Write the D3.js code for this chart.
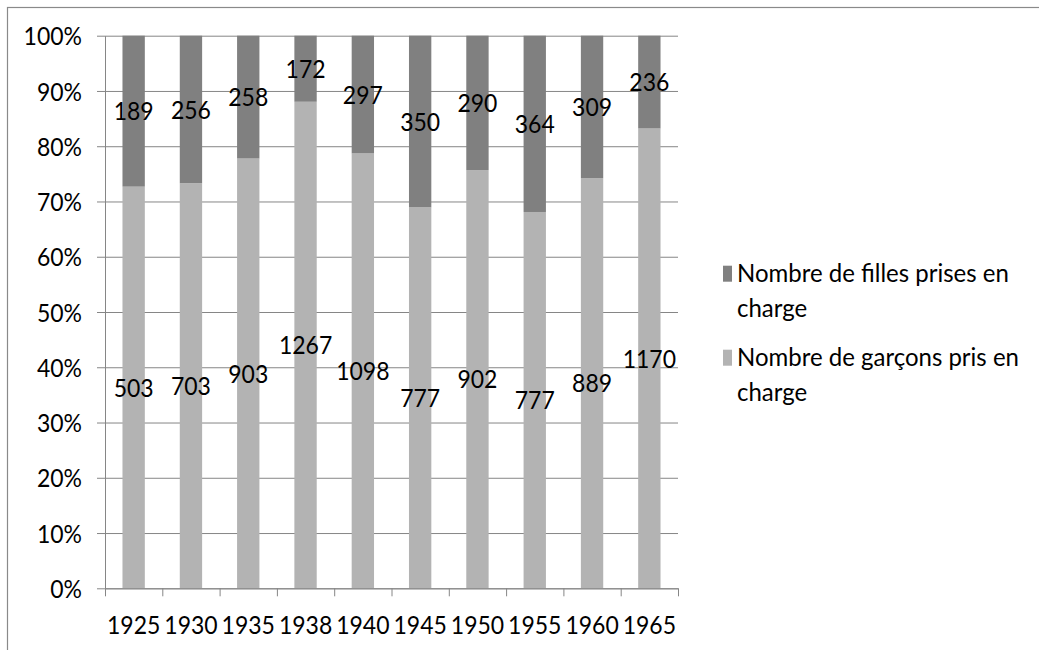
<!DOCTYPE html>
<html>
<head>
<meta charset="utf-8">
<script src="https://cdn.jsdelivr.net/npm/d3@7"></script>
<style>
  html, body { margin: 0; padding: 0; background: #fff; }
  svg { display: block; }
  text { font-family: Lato, "Open Sans", sans-serif; fill: #000; }
</style>
</head>
<body>
<svg id="chart" width="1039" height="650"></svg>
<script>
const years = ["1925","1930","1935","1938","1940","1945","1950","1955","1960","1965"];
const girls = [189, 256, 258, 172, 297, 350, 290, 364, 309, 236];
const boys  = [503, 703, 903, 1267, 1098, 777, 902, 777, 889, 1170];
const yTickValues = [0, 0.1, 0.2, 0.3, 0.4, 0.5, 0.6, 0.7, 0.8, 0.9, 1];
const seriesKeys = ["boys", "girls"];
const legendLabels = [
  ["Nombre de filles prises en", "charge"],
  ["Nombre de garçons pris en", "charge"]
];

const colors = { girls: "#808080", boys: "#b3b3b3" };
const gridColor = "#868686";

const svg = d3.select("#chart");
const pLeft = 105, pRight = 678, pTop = 35.7, pBottom = 588.3;

// outer frame
svg.append("rect")
  .attr("x", 7.5).attr("y", 7.5)
  .attr("width", 1100).attr("height", 700)
  .attr("fill", "none").attr("stroke", "#8a8a8a").attr("stroke-width", 1.2);

const rows = years.map((yr, i) => ({ year: yr, girls: girls[i], boys: boys[i] }));
const stacked = d3.stack().keys(seriesKeys).offset(d3.stackOffsetExpand)(rows);

const x = d3.scaleBand().domain(years).range([pLeft, pRight]).padding(0);
const y = d3.scaleLinear().domain([0, 1]).range([pBottom, pTop]);
const barW = x.bandwidth() * 0.39;

// gridlines + y axis
const yAxis = d3.axisLeft(y)
  .tickValues(yTickValues)
  .tickFormat(d3.format(".0%"))
  .tickSizeOuter(0);
const gy = svg.append("g").attr("transform", `translate(${pLeft},0)`).call(yAxis);
gy.select(".domain").attr("stroke", gridColor);
gy.selectAll(".tick line")
  .attr("x1", -8).attr("x2", pRight - pLeft)
  .attr("stroke", gridColor).attr("stroke-width", 1);
gy.selectAll(".tick text")
  .attr("x", -23).attr("dy", "0.36em")
  .attr("transform", "scale(1,1.1)")
  .style("font-size", "23px")
  .style("font-family", "Lato, sans-serif")
  .attr("fill", "#000");

// bars
const layers = svg.append("g").selectAll("g")
  .data(stacked).join("g")
  .attr("fill", d => colors[d.key]);
layers.selectAll("rect")
  .data(d => d).join("rect")
  .attr("x", d => x(d.data.year) + (x.bandwidth() - barW) / 2)
  .attr("width", barW)
  .attr("y", d => y(d[1]))
  .attr("height", d => y(d[0]) - y(d[1]));

// data labels
stacked.forEach(layer => {
  svg.append("g").selectAll("text")
    .data(layer).join("text")
    .attr("transform", d => `translate(${x(d.data.year) + x.bandwidth() / 2},${(y(d[0]) + y(d[1])) / 2}) scale(1,1.1)`)
    .attr("text-anchor", "middle")
    .attr("dy", "0.36em")
    .style("font-size", "23px")
    .text(d => d.data[layer.key]);
});

// x axis line + boundary ticks
const xLin = d3.scaleLinear().domain([0, years.length]).range([pLeft, pRight]);
const gxTicks = svg.append("g").attr("transform", `translate(0,${pBottom})`)
  .call(d3.axisBottom(xLin).tickValues(d3.range(years.length + 1)).tickFormat("").tickSizeInner(8).tickSizeOuter(0));
gxTicks.select(".domain").attr("stroke", gridColor);
gxTicks.selectAll(".tick line").attr("stroke", gridColor);

// x labels
const gx = svg.append("g").attr("transform", `translate(0,${pBottom})`)
  .call(d3.axisBottom(x).tickSize(0));
gx.select(".domain").remove();
gx.selectAll(".tick text")
  .attr("y", 41.8).attr("dy", 0)
  .attr("transform", "scale(1,1.1)")
  .style("font-size", "23px")
  .style("font-family", "Lato, sans-serif")
  .attr("fill", "#000");

// legend
const legendKeys = ["girls", "boys"];
const lg = svg.append("g");
legendKeys.forEach((k, i) => {
  const by = 281.7 + i * 84;
  lg.append("rect")
    .attr("x", 723).attr("y", by - 16).attr("width", 9).attr("height", 16)
    .attr("fill", colors[k]);
  legendLabels[i].forEach((line, j) => {
    lg.append("text")
      .attr("transform", `translate(737,${by + j * 35.6}) scale(1,1.08)`)
      .style("font-size", "24px")
      .text(line);
  });
});
</script>
</body>
</html>
